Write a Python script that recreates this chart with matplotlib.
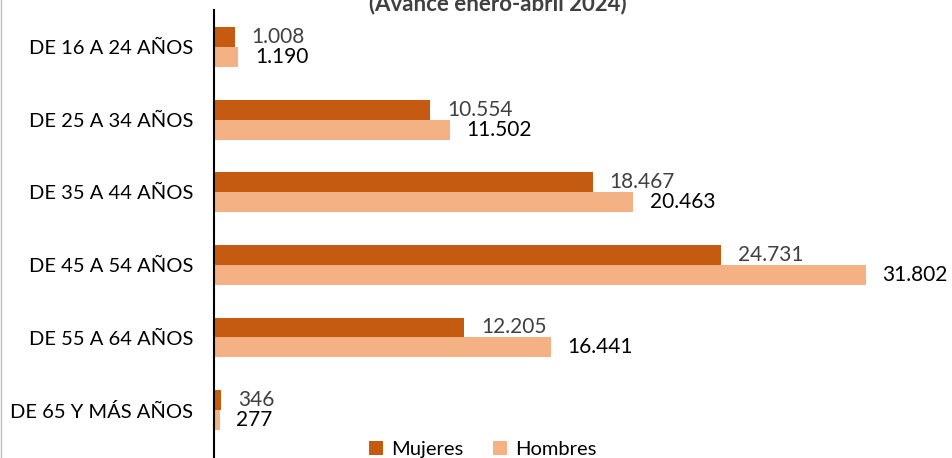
import matplotlib.pyplot as plt
from matplotlib.lines import Line2D
import numpy as np

plt.rcParams['font.family'] = ['Lato', 'DejaVu Sans']

categories = ['DE 16 A 24 AÑOS', 'DE 25 A 34 AÑOS', 'DE 35 A 44 AÑOS',
              'DE 45 A 54 AÑOS', 'DE 55 A 64 AÑOS', 'DE 65 Y MÁS AÑOS']
mujeres = [1008, 10554, 18467, 24731, 12205, 346]
hombres = [1190, 11502, 20463, 31802, 16441, 277]
labels_m = ['1.008', '10.554', '18.467', '24.731', '12.205', '346']
labels_h = ['1.190', '11.502', '20.463', '31.802', '16.441', '277']

c_muj = '#C55A11'
c_hom = '#F4B183'

fig = plt.figure(figsize=(9.52, 4.58), dpi=100)
ax = fig.add_axes([214/952, 0, 1 - 214/952, 448/458])

y = np.arange(len(categories))
h = 0.275
ax.barh(y - h/2, mujeres, height=h, color=c_muj, label='Mujeres')
ax.barh(y + h/2, hombres, height=h, color=c_hom, label='Hombres')

# etiquetas de valor
for i in range(len(categories)):
    ax.annotate(labels_m[i], xy=(mujeres[i], y[i] - h/2), xytext=(12, 0),
                textcoords='offset points', va='center', ha='left',
                fontsize=15, color='#404040')
    ax.annotate(labels_h[i], xy=(hombres[i], y[i] + h/2), xytext=(12, 0),
                textcoords='offset points', va='center', ha='left',
                fontsize=15, color='black')

ax.set_xlim(0, 36000)
ax.set_ylim(5.66, -0.51)
ax.set_yticks(y, labels=categories, fontsize=14.5)
ax.tick_params(axis='y', length=0, pad=15)
ax.set_xticks([])
for s in ['top', 'right', 'bottom']:
    ax.spines[s].set_visible(False)
ax.spines['left'].set_color('black')
ax.spines['left'].set_linewidth(1.5)

fig.text(498/952, 1 - 10/458, '(Avance enero-abril 2024)', ha='center', va='baseline',
         fontsize=16, fontweight='bold', color='#404040')

ax.legend(loc='center', bbox_to_anchor=(0.364, 0.018), ncol=2, frameon=False,
          fontsize=14.5, handlelength=0.7, handleheight=0.7, columnspacing=1.5,
          handletextpad=0.4)

fig.add_artist(Line2D([0.5/952, 0.5/952], [0, 1], color='#BFBFBF', lw=1))

fig.savefig('out.png', dpi=100)
